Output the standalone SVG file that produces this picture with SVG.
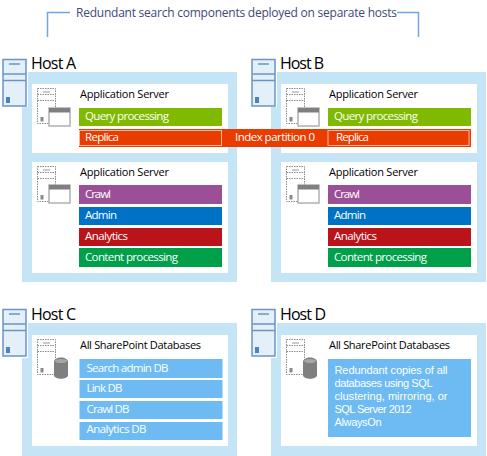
<svg xmlns="http://www.w3.org/2000/svg" width="487" height="456" viewBox="0 0 487 456">
<style>
text{font-family:"Open Sans","Noto Sans","Liberation Sans",sans-serif}
.host{font-size:16px;fill:#000}
.title{font-size:11px;fill:#000}
.bar{font-size:11.5px;fill:#fff}
.note{font-size:11px;fill:#fff;font-family:"Liberation Sans",Arial,sans-serif}
.panel{fill:#c5e5f6}
.box{fill:#fff}
.srv{fill:#e3f0fa;stroke:#6a94c4;stroke-width:1.5}
.srvl{stroke:#6a94c4;stroke-width:1.5;fill:none}
.dash{fill:#fff;stroke:#8a8a8a;stroke-width:1;stroke-dasharray:1.5 1}
.br{fill:none;stroke:#6fa8dc;stroke-width:1.5}
.rep{fill:none;stroke:#f6b79e;stroke-width:1}
</style>
<defs>
<g id="server">
<rect class="srv" x="3" y="59.5" width="23" height="46.5"/>
<path class="srvl" d="M3 74H26M3 80.500H26M9 64H20"/>
<rect x="6" y="97" width="4" height="6" fill="#4f81bd"/>
</g>
<g id="ghost">
<rect class="dash" x="37.500" y="88.500" width="18" height="35"/>
<path d="M37.500 94.500H55.500M37.500 100.500H55.500" stroke="#8a8a8a" stroke-dasharray="1.500 1" fill="none"/>
<path d="M43 92H50" stroke="#999" fill="none"/>
<rect x="40.500" y="117" width="3" height="4.500" fill="#8a8a8a"/>
</g>
<g id="win">
<rect x="49" y="108" width="21" height="18" fill="#fff" stroke="#b0b0b0" stroke-width="1.500"/>
<rect x="49" y="108" width="21" height="4.500" fill="#7f7f7f"/>
</g>
<g id="db">
<path d="M54 362C54 356 68 356 68 362V375C68 380 54 380 54 375Z" fill="#7f7f7f"/>
<ellipse cx="61" cy="361" rx="6" ry="2" fill="#a6a6a6"/>
</g>
</defs>
<g id="connectors">
<path class="br" d="M70 12.500H47.500V37"/>
<path class="br" d="M397 12.500H418.500V37"/>
</g>
<text x="76" y="17" font-size="12" fill="#3c4a78" textLength="321" lengthAdjust="spacing">Redundant search components deployed on separate hosts</text>
<g id="host-a">
<path class="panel" d="M28 72H237V282H22V107H28Z"/>
<use href="#server"/>
<text class="host" x="31" y="69" textLength="45">Host A</text>
<rect class="box" x="32" y="84" width="196" height="69"/>
<use href="#ghost"/><use href="#win"/>
<text class="title" x="80" y="98" textLength="89">Application Server</text>
<rect x="79" y="108" width="143" height="18" fill="#7fba00"/>
<text class="bar" x="85" y="120" textLength="84">Query processing</text>
<rect class="box" x="32" y="162" width="196" height="111"/>
<g transform="translate(0,78)"><use href="#ghost"/></g>
<g transform="translate(0,77)"><use href="#win"/></g>
<text class="title" x="80" y="176" textLength="89">Application Server</text>
<rect x="79" y="185" width="143" height="19" fill="#9b4f96"/>
<text class="bar" x="85" y="198" textLength="26">Crawl</text>
<rect x="79" y="207" width="143" height="18" fill="#0072c6"/>
<text class="bar" x="85" y="219" textLength="32">Admin</text>
<rect x="79" y="228" width="143" height="18" fill="#ba141a"/>
<text class="bar" x="85" y="240" textLength="43">Analytics</text>
<rect x="79" y="248" width="143" height="19" fill="#00a04a"/>
<text class="bar" x="85" y="261" textLength="93">Content processing</text>
</g>
<g id="host-b">
<path class="panel" d="M277 72H486V282H271V107H277Z"/>
<g transform="translate(249,0)"><use href="#server"/></g>
<text class="host" x="280" y="69" textLength="44">Host B</text>
<rect class="box" x="281" y="84" width="196" height="69"/>
<g transform="translate(249,0)"><use href="#ghost"/><use href="#win"/></g>
<text class="title" x="329" y="98" textLength="89">Application Server</text>
<rect x="328" y="108" width="143" height="18" fill="#7fba00"/>
<text class="bar" x="334" y="120" textLength="84">Query processing</text>
<rect class="box" x="281" y="162" width="196" height="111"/>
<g transform="translate(249,78)"><use href="#ghost"/></g>
<g transform="translate(249,77)"><use href="#win"/></g>
<text class="title" x="329" y="176" textLength="89">Application Server</text>
<rect x="328" y="185" width="143" height="19" fill="#9b4f96"/>
<text class="bar" x="334" y="198" textLength="26">Crawl</text>
<rect x="328" y="207" width="143" height="18" fill="#0072c6"/>
<text class="bar" x="334" y="219" textLength="32">Admin</text>
<rect x="328" y="228" width="143" height="18" fill="#ba141a"/>
<text class="bar" x="334" y="240" textLength="43">Analytics</text>
<rect x="328" y="248" width="143" height="19" fill="#00a04a"/>
<text class="bar" x="334" y="261" textLength="93">Content processing</text>
</g>
<g id="index-partition">
<rect x="79" y="129" width="392" height="18" fill="#eb3c00"/>
<rect class="rep" x="79.500" y="130.500" width="142" height="15"/>
<rect class="rep" x="328" y="130.500" width="141" height="15"/>
<text class="bar" x="85" y="141" textLength="34">Replica</text>
<text class="bar" x="235" y="141" textLength="80">Index partition 0</text>
<text class="bar" x="336" y="141" textLength="33">Replica</text>
</g>
<g id="host-c">
<path class="panel" d="M28 323H237V456H22V358H28Z"/>
<g transform="translate(0,250)"><use href="#server"/></g>
<text class="host" x="31" y="320" textLength="45">Host C</text>
<rect class="box" x="32" y="335" width="196" height="111"/>
<g transform="translate(0,251)"><use href="#ghost"/></g>
<use href="#db"/>
<text class="title" x="80" y="349" textLength="121">All SharePoint Databases</text>
<rect x="79.500" y="359" width="143" height="19" fill="#6dbbf2"/>
<text class="bar" x="86.500" y="372" textLength="82">Search admin DB</text>
<rect x="79.500" y="380" width="143" height="18" fill="#6dbbf2"/>
<text class="bar" x="86.500" y="392" textLength="36">Link DB</text>
<rect x="79.500" y="401" width="143" height="18" fill="#6dbbf2"/>
<text class="bar" x="86.500" y="413" textLength="43">Crawl DB</text>
<rect x="79.500" y="422" width="143" height="18" fill="#6dbbf2"/>
<text class="bar" x="86.500" y="433" textLength="60">Analytics DB</text>
</g>
<g id="host-d">
<path class="panel" d="M277 323H486V456H271V358H277Z"/>
<g transform="translate(249,250)"><use href="#server"/></g>
<text class="host" x="280" y="320" textLength="46">Host D</text>
<rect class="box" x="281" y="335" width="196" height="111"/>
<g transform="translate(249,251)"><use href="#ghost"/></g>
<g transform="translate(249,0)"><use href="#db"/></g>
<text class="title" x="329" y="349" textLength="121">All SharePoint Databases</text>
<rect x="328" y="359" width="143" height="78" fill="#6dbbf2"/>
<text class="note" x="334.500" y="374" textLength="113">Redundant copies of all</text>
<text class="note" x="334.500" y="387" textLength="98">databases using SQL</text>
<text class="note" x="334.500" y="400" textLength="113">clustering, mirroring, or</text>
<text class="note" x="334.500" y="413" textLength="77">SQL Server 2012</text>
<text class="note" x="334.500" y="426" textLength="47">AlwaysOn</text>
</g>
</svg>
